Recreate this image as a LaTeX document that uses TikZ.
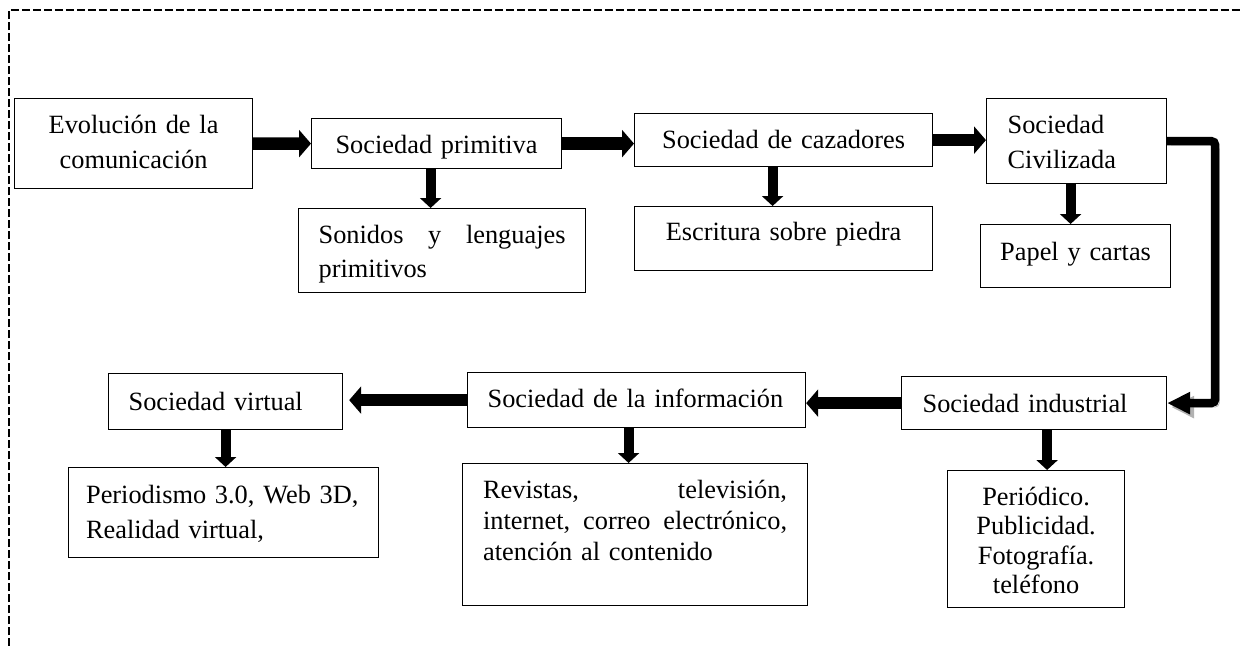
\documentclass[tikz,border=0pt]{standalone}
\usepackage{fontspec}
\setmainfont{Liberation Serif}
\usetikzlibrary{arrows.meta,calc}

\begin{document}
\begin{tikzpicture}[x=0.02cm,y=-0.02cm,
  caja/.style={draw,line width=0.7pt,anchor=north west,inner ysep=0pt,
    font=\fontsize{15pt}{20pt}\selectfont},
  flecha/.style={line width=0.25cm,-{Triangle[length=0.24cm,width=0.54cm]}},
  bajada/.style={line width=0.2cm,-{Triangle[length=0.2cm,width=0.42cm]}},
  codo/.style={line width=0.17cm,rounded corners=0.08cm,-{Triangle[length=0.46cm,width=0.42cm]}},
  marco/.style={line width=0.6pt,dash pattern=on 0.16cm off 0.06cm}]
\useasboundingbox (0,0) rectangle (1242,646);
\draw[marco] (9,646) -- (9,10) -- (1242,10);

% fila de arriba
\draw (14,98) node[caja,inner xsep=0.2cm,text width=4.36cm,text height=0.7cm,text depth=1.1cm,align=center] (evo) {Evolución de la\\comunicación};
\draw (311,118) node[caja,inner xsep=0.2cm,text width=4.6cm,text height=0.7cm,text depth=0.3cm,align=center] (prim) {Sociedad primitiva};
\draw (298,208) node[caja,inner xsep=0.4cm,text width=4.94cm,text height=0.7cm,text depth=0.98cm,align=left,
  font=\fontsize{15pt}{19.3pt}\selectfont] (son) {Sonidos\hfill y\hfill lenguajes\\primitivos};
\draw (634,113) node[caja,inner xsep=0.2cm,text width=5.56cm,text height=0.7cm,text depth=0.36cm,align=center] (caz) {Sociedad de cazadores};
\draw (634,206) node[caja,inner xsep=0.2cm,text width=5.56cm,text height=0.68cm,text depth=0.6cm,align=center] (esc) {Escritura sobre piedra};
\draw (986,98) node[caja,inner xsep=0.42cm,text width=2.76cm,text height=0.7cm,text depth=1.0cm,align=left] (civ) {Sociedad\\Civilizada};
\draw (980,224) node[caja,inner xsep=0.2cm,text width=3.4cm,text height=0.72cm,text depth=0.54cm,align=center] (pap) {Papel y cartas};

% fila de abajo
\draw (901,376) node[caja,inner xsep=0.42cm,text width=4.46cm,text height=0.72cm,text depth=0.34cm,align=left] (ind) {Sociedad industrial};
\draw (947,470) node[caja,inner xsep=0.2cm,text width=3.14cm,text height=0.7cm,text depth=2.04cm,align=center,
  font=\fontsize{15pt}{16.7pt}\selectfont] (per) {Periódico.\\Publicidad.\\Fotografía.\\teléfono};
\draw (467,372) node[caja,inner xsep=0.4cm,text width=5.96cm,text height=0.7cm,text depth=0.4cm,align=left] (inf) {Sociedad de la información};
\draw (462,463) node[caja,inner xsep=0.41cm,text width=6.08cm,text height=0.7cm,text depth=2.14cm,align=left,
  font=\fontsize{15pt}{17.6pt}\selectfont] (rev) {Revistas,\hfill televisión,\\internet,\hfill correo\hfill electrónico,\\atención al contenido};
\draw (108,373) node[caja,inner xsep=0.4cm,text width=3.88cm,text height=0.74cm,text depth=0.38cm,align=left] (vir) {Sociedad virtual};
\draw (68,467) node[caja,inner xsep=0.35cm,text width=5.5cm,text height=0.72cm,text depth=1.08cm,align=left] (pdm) {Periodismo 3.0, Web 3D,\\Realidad virtual,};

% flechas
\draw[flecha] (evo.east) -- (prim.west);
\draw[flecha] (prim.east) -- (prim.east -| caz.west);
\draw[flecha] (caz.east) -- (caz.east -| civ.west);
\draw[codo,preaction={draw=black!30,transform canvas={shift={(0.08cm,-0.08cm)}}}] (civ.east) -- ++(48,0) |- (ind.east);
\draw[flecha] (ind.west) -- (ind.west -| inf.east);
\draw[flecha,shorten >=0.12cm] (inf.west) -- (inf.west -| vir.east);

\draw[bajada] ($(prim.south)+(-6,0)$) -- ($(prim.south |- son.north)+(-6,0)$);
\draw[bajada] ($(caz.south)+(-11,0)$) -- ($(caz.south |- esc.north)+(-11,0)$);
\draw[bajada] ($(civ.south)+(-6,0)$) -- ($(civ.south |- pap.north)+(-6,0)$);
\draw[bajada] ($(ind.south)+(13,0)$) -- ($(ind.south |- per.north)+(13,0)$);
\draw[bajada] ($(inf.south)+(-8,0)$) -- ($(inf.south |- rev.north)+(-8,0)$);
\draw[bajada] (vir.south) -- (vir.south |- pdm.north);
\end{tikzpicture}
\end{document}
